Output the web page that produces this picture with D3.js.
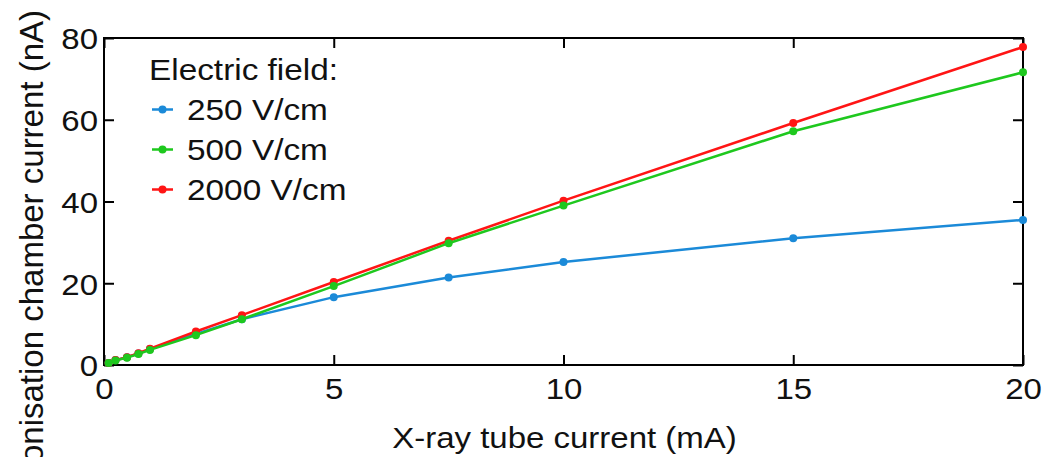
<!DOCTYPE html>
<html><head><meta charset="utf-8">
<script src="https://cdn.jsdelivr.net/npm/d3@7"></script>
<style>
html,body{margin:0;padding:0;background:#fff;}
svg{display:block;}
text{font-family:"Liberation Sans",Arial,Helvetica,sans-serif;fill:#111;}
</style></head>
<body>
<svg id="chart" width="1045" height="457"></svg>
<script>
const tubeCurrent = [0.1, 0.25, 0.5, 0.75, 1, 2, 3, 5, 7.5, 10, 15, 20];
const field250 = [0.5, 1.2, 1.9, 2.8, 3.9, 7.6, 11.2, 16.6, 21.4, 25.2, 31.0, 35.5];
const field500 = [0.5, 1.1, 1.8, 2.7, 3.7, 7.3, 11.2, 19.3, 29.8, 39.0, 57.2, 71.6];
const field2000 = [0.5, 1.2, 1.9, 2.9, 4.0, 8.2, 12.2, 20.3, 30.4, 40.2, 59.2, 77.8];
const seriesNames = ["250 V/cm", "500 V/cm", "2000 V/cm"];
const seriesColors = ["#1b8ad8", "#1ec81e", "#ff1515"];
const xTicks = [0, 5, 10, 15, 20];
const yTicks = [0, 20, 40, 60, 80];
const xTitle = "X-ray tube current (mA)";
const yTitle = "Ionisation chamber current (nA)";
const legendTitle = "Electric field:";

const svg = d3.select("#chart");
const L = 104, R = 1023, T = 38, B = 365;
const x = d3.scaleLinear().domain([0, 20]).range([L, R]);
const y = d3.scaleLinear().domain([0, 80]).range([B, T]);
const TS = 1.1; // horizontal text stretch
const LS = 1.15;

const series = [field250, field500, field2000].map((vals, i) => ({
  name: seriesNames[i], color: seriesColors[i],
  pts: tubeCurrent.map((t, j) => [t, vals[j]])
}));

function styleAxis(g) {
  g.select(".domain").remove();
  g.selectAll(".tick line").attr("stroke", "#000").attr("stroke-width", 2);
}
svg.append("g").attr("transform", `translate(0,${B})`)
  .call(d3.axisBottom(x).tickValues(xTicks).tickSizeInner(-10).tickSizeOuter(0).tickPadding(12).tickFormat(d3.format("d")))
  .call(styleAxis)
  .call(g => g.selectAll(".tick text").attr("font-size", 30).attr("fill", "#111")
    .attr("transform", `scale(${TS},1)`).attr("dy", "0.75em"));
svg.append("g").attr("transform", `translate(0,${T})`)
  .call(d3.axisTop(x).tickValues(xTicks).tickSizeInner(-10).tickSizeOuter(0).tickFormat(""))
  .call(styleAxis);
svg.append("g").attr("transform", `translate(${L},0)`)
  .call(d3.axisLeft(y).tickValues(yTicks).tickSizeInner(-10).tickSizeOuter(0).tickPadding(0).tickFormat(d3.format("d")))
  .call(styleAxis)
  .call(g => g.selectAll(".tick text").attr("font-size", 30).attr("fill", "#111")
    .attr("x", -6 / TS).attr("dy", "0.36em").attr("transform", `scale(${TS},1)`));
svg.append("g").attr("transform", `translate(${R},0)`)
  .call(d3.axisRight(y).tickValues(yTicks).tickSizeInner(-10).tickSizeOuter(0).tickFormat(""))
  .call(styleAxis);

svg.append("rect").attr("x", L).attr("y", T).attr("width", R - L).attr("height", B - T)
  .attr("fill", "none").attr("stroke", "#000").attr("stroke-width", 2);

const line = d3.line().x(d => x(d[0])).y(d => y(d[1]));
[0, 2, 1].forEach(i => {
  const s = series[i];
  const g = svg.append("g");
  g.append("path").datum(s.pts).attr("d", line).attr("fill", "none")
    .attr("stroke", s.color).attr("stroke-width", 2.5);
  g.selectAll("circle").data(s.pts).join("circle")
    .attr("cx", d => x(d[0])).attr("cy", d => y(d[1])).attr("r", 4).attr("fill", s.color);
});

svg.append("text").attr("transform", `translate(${(L + R) / 2 + 1},448) scale(${TS},1)`)
  .attr("text-anchor", "middle").attr("font-size", 30).text(xTitle);
svg.append("text").attr("transform", `translate(43,10) rotate(-90)`)
  .attr("text-anchor", "end").attr("font-size", 33).text(yTitle);

const lg = svg.append("g");
lg.append("text").attr("transform", `translate(149,80) scale(${LS},1)`).attr("font-size", 29).text(legendTitle);
series.forEach((s, i) => {
  const by = 120 + i * 40;
  lg.append("line").attr("x1", 152).attr("x2", 173).attr("y1", by - 10.5).attr("y2", by - 10.5)
    .attr("stroke", s.color).attr("stroke-width", 2.5);
  lg.append("circle").attr("cx", 162.5).attr("cy", by - 10.5).attr("r", 4).attr("fill", s.color);
  lg.append("text").attr("transform", `translate(187,${by}) scale(${LS},1)`).attr("font-size", 29).text(s.name);
});
</script>
</body></html>
